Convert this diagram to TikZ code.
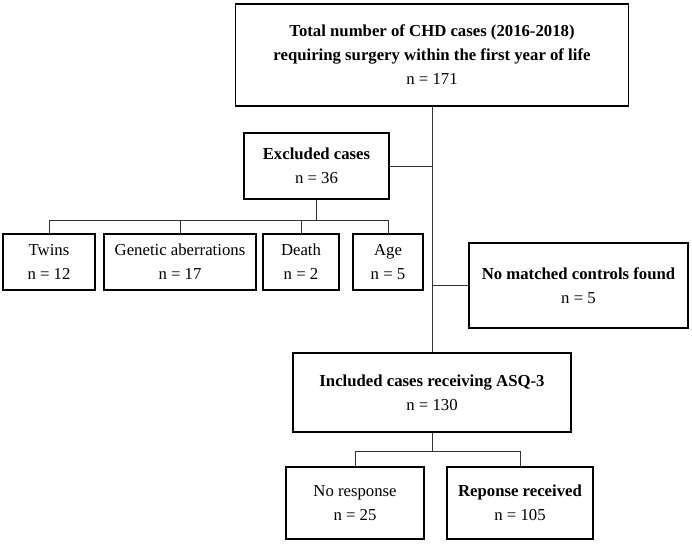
\documentclass[tikz,border=0pt]{standalone}
\usepackage{fontspec}
\setmainfont{Liberation Serif}
\usepackage{tikz}
\usetikzlibrary{positioning, calc}
\tikzset{
  countbox/.style={rectangle, draw=black, line width=1.4pt, align=center,
    inner sep=0pt, font=\fontsize{11.9}{17}\selectfont},
  linkline/.style={draw=black!80, line width=0.7pt},
}

\begin{document}
\begin{tikzpicture}
  \useasboundingbox (0,0) rectangle (17.3,13.6);
  % main column
  \node[countbox, minimum width=9.825cm, minimum height=2.55cm] (total) at (10.8,12.225)
    {\textbf{Total number of CHD cases (2016-2018)}\\
     \textbf{requiring surgery within the first year of life}\\ n = 171};
  \node[countbox, minimum width=6.95cm, minimum height=1.975cm] (incl) at (10.8,3.7875)
    {\textbf{Included cases receiving ASQ-3}\\ n = 130};
  % exclusions
  \node[countbox, minimum width=3.625cm, minimum height=1.65cm] (excl) at (7.9125,9.45)
    {\textbf{Excluded cases}\\ n = 36};
  \node[countbox, minimum width=5.475cm, minimum height=2.125cm] (nomatch) at (14.4625,6.4625)
    {\textbf{No matched controls found}\\ n = 5};
  % reasons for exclusion
  \node[countbox, minimum width=2.3cm, minimum height=1.4cm] (twins) at (1.225,7.05)
    {Twins\\ n = 12};
  \node[countbox, minimum width=3.8cm, minimum height=1.4cm] (genetic) at (4.5,7.05)
    {Genetic aberrations\\ n = 17};
  \node[countbox, minimum width=1.9cm, minimum height=1.4cm] (death) at (7.525,7.05)
    {Death\\ n = 2};
  \node[countbox, minimum width=1.75cm, minimum height=1.4cm] (age) at (9.7,7.05)
    {Age\\ n = 5};
  % responses
  \node[countbox, minimum width=3.45cm, minimum height=1.8cm] (noresp) at (8.875,1.025)
    {No response\\ n = 25};
  \node[countbox, minimum width=3.65cm, minimum height=1.8cm] (resp) at (13.0,1.025)
    {\textbf{Reponse received}\\ n = 105};

  \coordinate (exclbus) at (7.9125,8.1);
  \coordinate (inclbus) at (10.8,2.325);

  % connectors
  \draw[linkline] (total.south) -- (incl.north);
  \draw[linkline] (excl.east) -- (excl.east -| total.south);
  \draw[linkline] (nomatch.west) -- (nomatch.west -| total.south);
  \draw[linkline] (excl.south) -- (exclbus);
  \draw[linkline] (twins.north) |- (age.north |- exclbus) -- (age.north);
  \draw[linkline] (genetic.north) -- (genetic.north |- exclbus);
  \draw[linkline] (death.north) -- (death.north |- exclbus);
  \draw[linkline] (incl.south) -- (inclbus);
  \draw[linkline] (noresp.north) |- (resp.north |- inclbus) -- (resp.north);
\end{tikzpicture}
\end{document}
